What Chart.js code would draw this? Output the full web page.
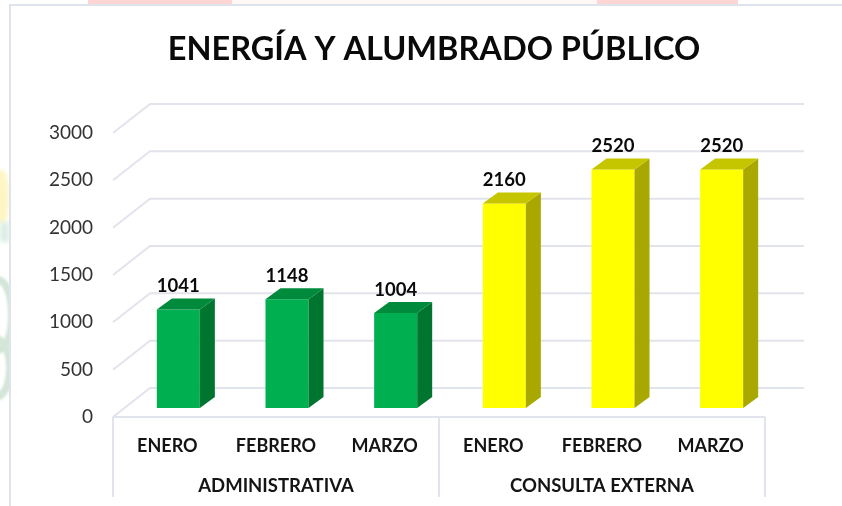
<!DOCTYPE html>
<html lang="es"><head><meta charset="utf-8">
<style>
html,body{margin:0;padding:0;background:#fff;overflow:hidden;width:842px;height:506px}
#page{position:relative;width:842px;height:506px;overflow:hidden}
.d{position:absolute}
canvas{position:absolute;left:0;top:0}
</style>
<script src="https://cdn.jsdelivr.net/npm/chart.js@4/dist/chart.umd.min.js"></script>
</head><body>
<div id="page">
<div class="d" style="left:232px;top:0;width:365px;height:4px;background:#fff6f6"></div>
<div class="d" style="left:88px;top:0;width:144px;height:4px;background:#fdd5d5"></div>
<div class="d" style="left:597px;top:0;width:141px;height:4px;background:#fdd5d5"></div>
<div class="d" style="left:-20px;top:276px;width:20px;height:62px;border-radius:50%;border:8px solid #d3e6d8;filter:blur(1px)"></div>
<div class="d" style="left:-22px;top:335px;width:20px;height:50px;border-radius:50%;border:8px solid #d3e6d8;filter:blur(1px)"></div>
<div class="d" style="left:-8px;top:170px;width:17px;height:54px;border-radius:40%;background:#fdf6c4;filter:blur(2px)"></div>
<div class="d" style="left:0;top:222px;width:9px;height:20px;background:#dcefe4;filter:blur(2px)"></div>
<div class="d" style="left:9px;top:4px;width:840px;height:510px;background:#fff;border-left:2px solid #dfe3ec;border-top:2px solid #dfe3ec;box-sizing:border-box"></div>
<canvas id="c" width="842" height="506"></canvas>
</div>
<script>
const months = ['ENERO','FEBRERO','MARZO','ENERO','FEBRERO','MARZO'];
const groups = ['ADMINISTRATIVA','CONSULTA EXTERNA'];
const administrativa = [1041,1148,1004];
const consultaExterna = [2160,2520,2520];
const yTicks = [0,500,1000,1500,2000,2500,3000];
const titleText = 'ENERGÍA Y ALUMBRADO PÚBLICO';
const frontColors = ['#00B050','#00B050','#00B050','#FFFF00','#FFFF00','#FFFF00'];
const sideColors  = ['#00752F','#00752F','#00752F','#A8A800','#A8A800','#A8A800'];
const topColors   = ['#008A3C','#008A3C','#008A3C','#C6C600','#C6C600','#C6C600'];
const gridColor = '#E1E4EC';
const fontName = 'Lato, Carlito, "Open Sans", sans-serif';
const depthX = 15, depthY = 11;
const wallX = 37, wallY = 29;
const barShiftX = 11, barShiftY = 9;

const frame3d = {
  id:'frame3d',
  beforeDatasetsDraw(chart){
    const {ctx, chartArea:a, scales:{y, xg}} = chart;
    ctx.save();
    ctx.strokeStyle = gridColor; ctx.lineWidth = 2;
    y.ticks.forEach(t=>{
      const py = y.getPixelForValue(t.value);
      ctx.beginPath();
      ctx.moveTo(a.left, py);
      ctx.lineTo(a.left+wallX, py-wallY);
      ctx.lineTo(a.right+wallX+2, py-wallY);
      ctx.stroke();
    });
    ctx.beginPath();
    ctx.moveTo(a.left, a.bottom); ctx.lineTo(a.right, a.bottom);
    const axisBottom = xg.bottom;
    [a.left,(a.left+a.right)/2,a.right].forEach(x=>{
      ctx.moveTo(x,a.bottom); ctx.lineTo(x,axisBottom);
    });
    ctx.stroke();
    ctx.restore();
    ctx.save();
    ctx.translate(barShiftX,-barShiftY);
  },
  afterDatasetsDraw(chart){
    const {ctx} = chart;
    const meta = chart.getDatasetMeta(0);
    const vals = chart.data.datasets[0].data;
    meta.data.forEach((bar,i)=>{
      const p = bar.getProps(['x','y','base','width'],true);
      const l = p.x-p.width/2, r = p.x+p.width/2;
      ctx.fillStyle = sideColors[i];
      ctx.beginPath();
      ctx.moveTo(r,p.y); ctx.lineTo(r+depthX,p.y-depthY);
      ctx.lineTo(r+depthX,p.base-depthY); ctx.lineTo(r,p.base); ctx.closePath(); ctx.fill();
      ctx.fillStyle = topColors[i];
      ctx.beginPath();
      ctx.moveTo(l,p.y); ctx.lineTo(l+depthX,p.y-depthY);
      ctx.lineTo(r+depthX,p.y-depthY); ctx.lineTo(r,p.y); ctx.closePath(); ctx.fill();
      ctx.fillStyle = '#0a0a0a';
      ctx.font = 'bold 18.5px '+fontName;
      ctx.textAlign = 'center'; ctx.textBaseline = 'middle';
      ctx.fillText(String(vals[i]), p.x, p.y-23);
    });
    ctx.restore();
  }
};

new Chart(document.getElementById('c'),{
  type:'bar',
  data:{labels:months,datasets:[{
    data:administrativa.concat(consultaExterna),
    backgroundColor:frontColors,
    barPercentage:0.396,categoryPercentage:1,
    xAxisID:'x',yAxisID:'y',clip:false
  }]},
  options:{
    responsive:false,animation:false,
    layout:{padding:{left:40,right:14,top:30,bottom:9}},
    plugins:{
      legend:{display:false},tooltip:{enabled:false},
      title:{display:true,text:titleText,color:'#0a0a0a',
        font:{family:fontName,size:32.5,weight:'bold',lineHeight:1.2},
        padding:{top:0,bottom:64}}
    },
    scales:{
      y:{min:0,max:3000,
        afterFit(s){s.width=73;},
        afterBuildTicks(s){s.ticks=yTicks.map(v=>({value:v}));},
        grid:{display:false},border:{display:false},
        ticks:{padding:12,color:'#333333',font:{family:fontName,size:19},
          callback:v=>String(v)}},
      yRightSpacer:{position:'right',min:0,max:3000,
        afterFit(s){s.width=63;},
        grid:{display:false},border:{display:false},
        ticks:{display:false}},
      x:{weight:1,offset:true,
        afterFit(s){s.height=40;},
        grid:{display:false},border:{display:false},
        ticks:{autoSkip:false,maxRotation:0,padding:10,color:'#141414',
          font:{family:fontName,size:18,weight:'bold'}}},
      xg:{type:'category',labels:groups,position:'bottom',weight:2,offset:true,
        afterFit(s){s.height=40;},
        grid:{display:false},border:{display:false},
        ticks:{autoSkip:false,maxRotation:0,padding:10,color:'#141414',
          font:{family:fontName,size:18.5,weight:'bold'}}}
    }
  },
  plugins:[frame3d]
});
</script>
</body></html>
